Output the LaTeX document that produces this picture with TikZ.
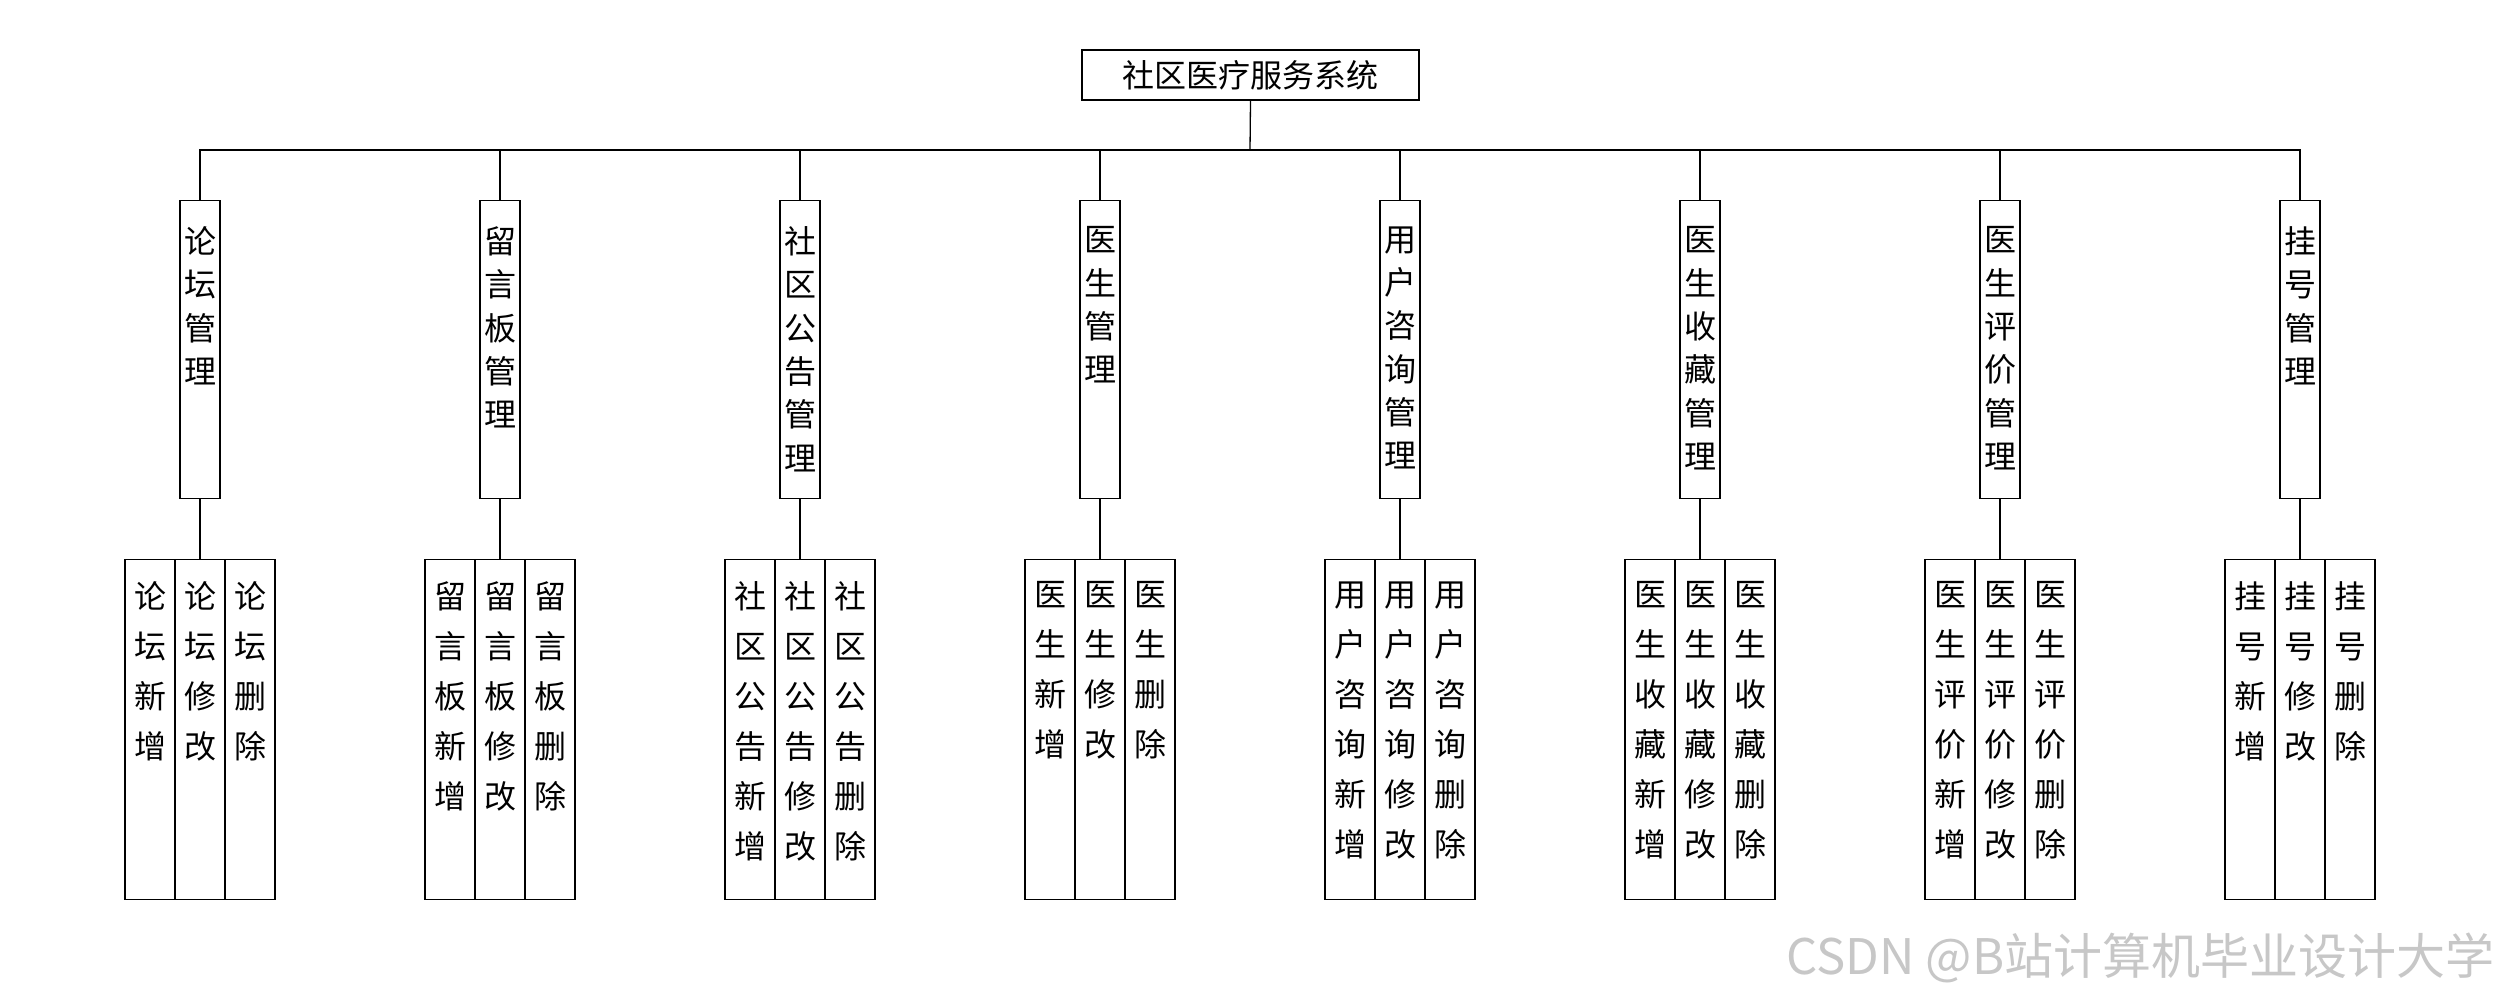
\documentclass[tikz,border=0pt]{standalone}
\usepackage{fontspec}
\setmainfont{Noto Sans CJK SC}
\newcommand\fmid{\fontsize{32}{43.3}\selectfont}
\newcommand\fleaf{\fontsize{32}{50}\selectfont}
\begin{document}
\begin{tikzpicture}[x=1pt,y=-1pt,line width=1.3pt,
  box/.style={draw,inner sep=0pt},
  lvtwo/.style={box,minimum width=40pt,minimum height=298pt,anchor=north},
  leaf/.style={box,minimum width=50pt,minimum height=340pt,anchor=north},
  vtext/.style={anchor=north,inner sep=0pt,align=center}]
\useasboundingbox[fill=white] (0,0) rectangle (2500,1000);
\node[box,minimum width=337pt,minimum height=50pt,font=\fontsize{32}{38}\selectfont] (sys) at (1250.5,75) {社区医疗服务系统};
\coordinate (bus) at (1250,150);
\draw (sys.south) -- (bus);
\foreach \i/\p in {1/{论\\坛},2/{留\\言\\板},3/{社\\区\\公\\告},4/{医\\生},5/{用\\户\\咨\\询},6/{医\\生\\收\\藏},7/{医\\生\\评\\价},8/{挂\\号}}{
  \pgfmathsetmacro\cx{200+300*(\i-1)}
  \node[lvtwo] (mod\i) at (\cx,200) {};
  \node[vtext,font=\fmid] (modt\i) at (\cx,226) {\p\\管\\理};
  \node[leaf] (la\i) at (\cx-50,559) {};
  \node[leaf] (lb\i) at (\cx,559) {};
  \node[leaf] (lc\i) at (\cx+50,559) {};
  \node[vtext,font=\fleaf] (lat\i) at (\cx-50,581) {\p\\新\\增};
  \node[vtext,font=\fleaf] (lbt\i) at (\cx,581) {\p\\修\\改};
  \node[vtext,font=\fleaf] (lct\i) at (\cx+50,581) {\p\\删\\除};
  \draw (mod\i.north) |- (bus);
  \draw (mod\i.south) -- (lb\i.north);
}
\node[anchor=east,inner sep=0pt,text=black!22,font=\fontsize{49}{60}\selectfont] (wm) at (2495,958) {CSDN @B站计算机毕业设计大学};
\end{tikzpicture}
\end{document}
